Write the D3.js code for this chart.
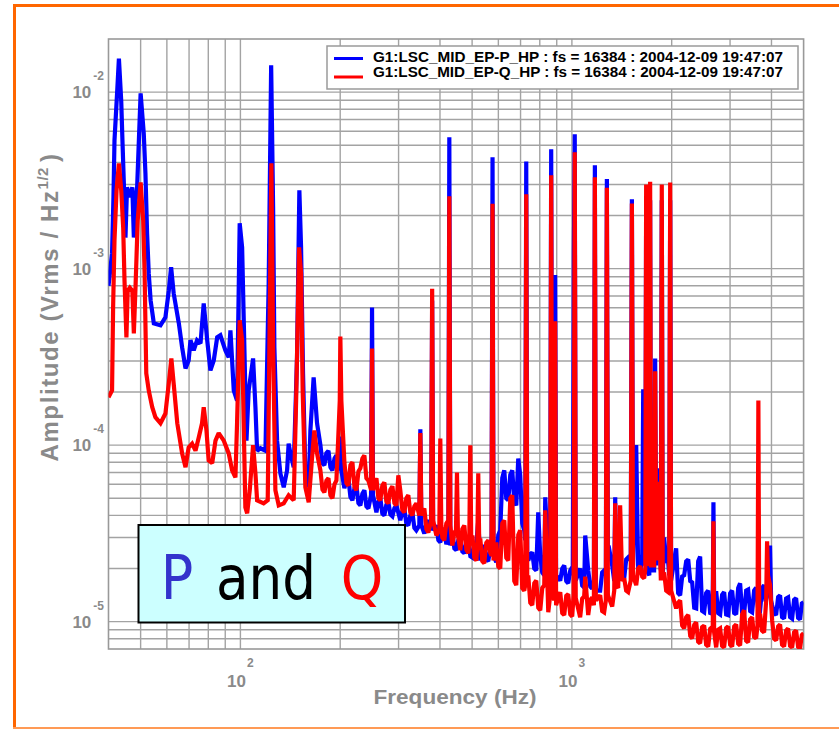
<!DOCTYPE html>
<html><head><meta charset="utf-8">
<script src="https://cdn.jsdelivr.net/npm/d3@7"></script>
<style>body{margin:0;background:#fff;} svg{display:block;}</style>
</head><body>
<svg id="c" width="839" height="729"></svg>
<script>
// ---- data: [frequency Hz, amplitude Vrms/sqrt(Hz)] ----
const seriesP = [
[40,8.0e-4],[41.0,1.22e-3],[41.4,2.54e-3],[41.7,5.33e-3],[42.5,1.02e-2],[43.0,1.55e-2],[43.7,8.9e-3],[44.0,5.84e-3],[44.5,3.04e-3],[45.0,1.50e-3],
[45.5,2.89e-3],[46.4,2.54e-3],[47.2,2.89e-3],[47.7,1.50e-3],[48.3,2.44e-3],[48.8,2.89e-3],[50.0,9.84e-3],[51.1,5.84e-3],[51.7,3.47e-3],[52.3,1.58e-3],
[52.9,9.4e-4],[53.6,6.6e-4],[54.8,4.9e-4],[57.4,4.77e-4],[59.4,5.3e-4],[60.8,7.5e-4],[61.8,1.02e-3],[62.9,7.25e-4],[65.2,4.9e-4],[66.7,3.58e-4],
[68.3,2.72e-4],[69.8,3.02e-4],[70.7,3.93e-4],[72.3,3.44e-4],[74.0,3.93e-4],[75.8,3.77e-4],[77.5,6.36e-4],[79.4,3.93e-4],[81.2,2.65e-4],[83.1,3.02e-4],
[85.1,4.08e-4],[87.0,4.19e-4],[90.1,3.44e-4],[92.2,3.14e-4],[93.3,4.47e-4],[95.5,2.04e-4],[97.7,1.79e-4],[99.5,1.81e-3],[101.2,1.32e-3],[102.3,5.3e-4],
[104.3,1.06e-4],[105.9,2.04e-4],[109.2,3.1e-4],[111.0,1.64e-4],[112.3,9.3e-5],[114.9,9.6e-5],[119.0,9.3e-5],[121.7,8.25e-4],[123.8,1.42e-2],[125.5,2.23e-3],
[126.6,3.58e-4],[129.0,1.06e-4],[132.0,6.92e-5],[135.1,5.77e-5],[138.3,7.2e-5],[139.8,1.02e-4],[141.5,8.98e-5],[144.8,7.5e-5],[148.2,3.14e-4],[150.6,2.78e-3],
[152.4,1.32e-3],[154.5,2.55e-4],[157.0,6.92e-5],[160.7,5.77e-5],[162.6,1.21e-4],[166.3,2.42e-4],[170.3,1.33e-4],
[174.3,1.0e-4],[176.8,7.9e-5],[179.2,7.7e-5],[181.7,9.0e-5],[184.3,9.3e-5],[186.9,7.5e-5],[189.5,7.2e-5],[192.2,8.4e-5],[194.8,8.75e-5],[198.5,7.2e-5],
[200.2,1.12e-4],[201.6,7.2e-5],[205.9,5.7e-5],[208.8,6.3e-5],[211.7,6.5e-5],[214.7,5.1e-5],[217.7,4.87e-5],[220.8,5.7e-5],[223.8,5.9e-5],[227.0,4.7e-5],
[230.1,4.56e-5],[233.3,5.3e-5],[236.6,5.55e-5],[239.9,4.5e-5],[243.3,4.38e-5],[247.8,5.2e-5],[249.5,6.03e-4],[251.2,5.2e-5],[257.2,4.16e-5],[260.8,4.8e-5],
[264.3,5.0e-5],[268.0,4.1e-5],[271.8,4.0e-5],[275.6,4.6e-5],[279.5,4.74e-5],[283.4,4.05e-5],[287.4,3.95e-5],[291.5,4.4e-5],[295.5,4.56e-5],[303.6,3.75e-5],
[307.9,4.2e-5],[312.2,4.38e-5],[316.6,3.6e-5],[321.0,3.51e-5],[325.5,4.0e-5],[330.1,4.16e-5],[334.8,3.4e-5],[339.4,3.29e-5],[346.5,3.51e-5],[349.0,1.23e-4],
[351.5,3.51e-5],[358.8,3.16e-5],[363.9,3.6e-5],[368.9,3.75e-5],[376.2,3.29e-5],[378.8,6.6e-4],[381.4,3.29e-5],[390.0,3.51e-5],[395.5,2.9e-5],[400.9,2.81e-5],
[406.6,3.25e-5],[412.2,3.38e-5],[418.0,2.75e-5],[424.0,2.89e-5],[426.8,5.55e-3],[429.8,2.7e-5],[435.8,3.2e-5],[442.0,2.6e-5],[448.1,2.54e-5],[454.4,2.9e-5],
[460.7,3.0e-5],[467.2,2.5e-5],[473.7,2.44e-5],[480.4,2.8e-5],[487.1,2.89e-5],[494.0,2.35e-5],[500.8,2.31e-5],[507.9,2.7e-5],[515.0,2.78e-5],[521.8,3.75e-5],
[529.1,2.22e-5],[536.6,2.6e-5],[544.0,2.7e-5],[551.7,2.25e-5],[559.4,2.2e-5],[567.3,2.6e-5],[572.2,2.54e-5],[576.2,4.27e-3],[580.2,2.37e-5],[591.4,2.17e-5],
[599.7,3.1e-5],[607.9,3.29e-5],[616.5,6.5e-5],[625.1,7.2e-5],[633.9,5.0e-5],[642.7,4.87e-5],[651.8,6.8e-5],[660.8,7.2e-5],[670.1,4.8e-5],[679.5,4.56e-5],
[688.9,8.4e-5],[698.5,6.74e-5],[708.3,3.6e-5],[718.2,3.29e-5],[723.2,2.89e-5],[728.2,4.05e-3],[733.2,2.37e-5],[738.5,2.22e-5],[748.9,2.4e-5],[759.3,2.47e-5],
[770.0,2.0e-5],[780.7,1.95e-5],[791.5,4.16e-5],[802.6,2.37e-5],[813.9,1.9e-5],[825.3,1.83e-5],[831,5.06e-5],[848.6,2.28e-5],[860,2.22e-5],[866,4.74e-3],
[872,1.83e-5],[884,1.95e-5],[890,9.2e-4],[896,1.83e-5],[922.1,1.71e-5],[935.1,2.0e-5],[948.2,2.08e-5],[961.6,1.7e-5],[974.9,1.65e-5],[988.6,1.95e-5],
[1002,2.03e-5],[1006,1.83e-5],[1014,1.27e-3],[1020,5.77e-3],[1027,1.71e-5],[1059,2.0e-5],[1074,1.6e-5],[1089,1.56e-5],[1097,3.08e-5],[1120,1.95e-5],
[1136,1.58e-5],[1151,1.54e-5],[1165,1.71e-5],[1173,3.85e-3],[1181,1.5e-5],[1217,1.5e-5],[1234,1.9e-5],[1251,1.95e-5],[1266,1.83e-5],[1275,3.22e-3],
[1284,2.22e-5],[1290,2.7e-5],[1323,2.08e-5],[1342,1.7e-5],[1351,5.06e-5],[1360,1.67e-5],[1379,2.15e-5],[1398,2.22e-5],[1418,1.8e-5],[1438,1.76e-5],
[1458,2.25e-5],[1478,2.31e-5],[1505,2.22e-5],[1517,2.47e-3],[1529,2.08e-5],[1563,1.0e-4],[1585,1.95e-5],[1607,1.9e-5],[1630,2.4e-5],[1641,2.07e-4],
[1652,2.44e-5],[1665,2.08e-5],[1675,2.44e-3],[1686,1.95e-5],[1712,1.83e-5],[1722,2.44e-3],[1732,1.95e-5],[1770,1.95e-5],[1783,3.1e-4],[1796,2.08e-5],
[1820,7.4e-5],[1855,1.95e-5],[1867,2.44e-3],[1879,1.83e-5],[1898,3.0e-5],[1925,2.2e-5],[1952,2.17e-5],[1966,1.83e-5],[1979,2.44e-3],[1992,1.71e-5],
[2063,2.6e-5],[2092,1.45e-5],[2121,1.41e-5],[2151,1.8e-5],[2181,1.83e-5],[2212,2.2e-5],[2243,2.25e-5],[2275,1.7e-5],[2306,1.67e-5],[2339,1.2e-5],
[2371,1.19e-5],[2404,2.2e-5],[2437,2.34e-5],[2471,1.15e-5],[2506,1.13e-5],[2541,1.45e-5],[2577,1.5e-5],[2613,1.12e-5],[2649,1.11e-5],[2660,1.32e-5],
[2673,4.74e-5],[2686,1.32e-5],[2724,1.49e-5],[2762,1.12e-5],[2800,1.1e-5],[2839,1.42e-5],[2879,1.47e-5],[2920,1.1e-5],[2960,1.09e-5],[3002,1.45e-5],
[3044,1.5e-5],[3087,1.12e-5],[3130,1.1e-5],[3174,1.55e-5],[3217,1.65e-5],[3262,1.13e-5],[3308,1.11e-5],[3355,1.5e-5],[3401,1.52e-5],[3449,1.15e-5],
[3497,1.13e-5],[3546,1.5e-5],[3596,1.56e-5],[3646,1.18e-5],[3696,1.16e-5],[3748,1.55e-5],[3800,1.61e-5],[3840,1.3e-5],[3880,1.4e-5],[3935,1.5e-5],
[3961,2.7e-5],[3990,1.32e-5],[4018,1.24e-5],[4075,1.12e-5],[4131,1.09e-5],[4189,1.38e-5],[4246,1.41e-5],[4306,1.06e-5],[4366,1.04e-5],[4428,1.35e-5],
[4489,1.37e-5],[4552,1.06e-5],[4616,1.04e-5],[4681,1.33e-5],[4746,1.36e-5],[4813,1.05e-5],[4878,1.03e-5],[4940,1.27e-5],[5000,1.29e-5]
];
const seriesQ = [
[40,1.87e-4],[41.0,2.04e-4],[41.3,6.03e-4],[41.7,1.45e-3],[42.3,2.78e-3],[43.0,3.95e-3],[43.7,2.78e-3],[44.3,1.71e-3],[44.7,8.6e-4],[45.3,4.08e-4],
[45.7,7.5e-4],[46.4,7.8e-4],[47.2,7.5e-4],[47.7,4.3e-4],[48.3,8.25e-4],[49.0,1.88e-3],[50.0,3.08e-3],[50.9,1.88e-3],[51.4,9.4e-4],[52.0,2.55e-4],
[52.9,2.04e-4],[54.2,1.64e-4],[55.4,1.44e-4],[57.4,1.33e-4],[59.4,1.51e-4],[60.8,2.24e-4],[61.9,3.1e-4],[62.9,2.24e-4],[64.5,1.33e-4],[66.7,8.98e-5],
[68.3,7.5e-5],[69.8,9.7e-5],[71.5,1.02e-4],[73.2,9.3e-5],[74.9,1.11e-4],[76.6,1.33e-4],[77.5,1.64e-4],[79.0,1.21e-4],[80.2,8.2e-5],[82.2,7.9e-5],
[84.1,1.06e-4],[86.0,1.17e-4],[89.1,1.06e-4],[92.2,8.98e-5],[94.4,7.2e-5],[96.6,6.57e-5],[97.7,1.33e-4],[99.5,5.1e-4],[101.2,3.93e-4],[102.3,1.33e-4],
[103.5,4.44e-5],[104.8,4.11e-5],[106.7,5.55e-5],[109.2,1.0e-4],[111.0,6.92e-5],[112.3,4.87e-5],[117.5,4.68e-5],[120.9,4.87e-5],[122.3,3.58e-4],[124.0,3.95e-3],
[125.5,3.58e-4],[127.5,5.55e-5],[130.5,4.56e-5],[135.1,4.68e-5],[139.8,5.2e-5],[144.8,4.87e-5],[147.5,2.04e-4],[150.3,1.32e-3],[152.4,9.4e-4],[154.1,2.04e-4],
[157.0,5.77e-5],[160.7,4.74e-5],[164.5,8.53e-5],[167.1,1.21e-4],[170.3,8.98e-5],
[174.3,7.2e-5],[176.8,5.6e-5],[179.2,5.4e-5],[181.7,6.3e-5],[184.3,6.5e-5],[186.9,5.2e-5],[189.5,5.0e-5],[192.2,6.0e-5],[194.8,6.3e-5],[197.2,1.07e-4],
[199.4,1.79e-4],[200.2,4.13e-4],[201.6,1.79e-4],[203.7,1.21e-4],[205.9,8.0e-5],[208.8,6.1e-5],[211.7,5.9e-5],[214.7,7.7e-5],[217.7,8.0e-5],[220.8,5.8e-5],
[223.8,5.55e-5],[227.0,7.1e-5],[230.1,7.4e-5],[233.3,8.4e-5],[236.6,8.75e-5],[239.9,6.5e-5],[243.3,6.3e-5],[248.0,5.55e-5],[249.5,3.53e-4],[251.0,5.55e-5],
[257.2,6.5e-5],[260.8,5.0e-5],[264.3,4.87e-5],[268.0,5.9e-5],[271.8,6.15e-5],[275.6,4.8e-5],[279.5,4.68e-5],[283.4,5.6e-5],[287.4,5.85e-5],[291.5,4.7e-5],
[295.5,4.56e-5],[299.5,6.74e-5],[303.6,5.55e-5],[307.9,4.3e-5],[312.2,4.16e-5],[316.6,5.0e-5],[321.0,5.2e-5],[325.5,4.15e-5],[330.1,4.0e-5],[334.8,4.5e-5],
[339.4,4.68e-5],[346.5,4.0e-5],[349.0,1.17e-4],[351.5,4.0e-5],[358.8,4.38e-5],[363.9,3.35e-5],[368.9,3.2e-5],[376.2,3.75e-5],[378.8,7.7e-4],[381.4,3.75e-5],
[390.0,3.08e-5],[398.1,3.29e-5],[400.9,1.09e-4],[403.7,3.51e-5],[406.6,3.0e-5],[412.2,2.89e-5],[418.0,3.6e-5],[424.0,3.75e-5],[426.8,2.57e-3],[429.8,3.51e-5],
[435.8,2.7e-5],[442.0,3.2e-5],[447.0,3.29e-5],[450.1,7.0e-5],[453.2,3.08e-5],[460.7,2.54e-5],[467.2,3.35e-5],[473.7,3.51e-5],[480.4,2.55e-5],[487.1,2.44e-5],
[490.3,2.89e-5],[493.7,1.0e-4],[497.1,2.7e-5],[500.8,3.08e-5],[507.9,2.3e-5],[515.0,2.22e-5],[518.2,2.7e-5],[521.8,6.92e-5],[525.4,2.7e-5],[529.1,2.96e-5],
[536.6,2.2e-5],[544.0,2.14e-5],[551.7,2.8e-5],[559.4,2.89e-5],[567.3,2.45e-5],[572.2,2.37e-5],[576.2,2.33e-3],[580.2,2.22e-5],[591.4,2.81e-5],[599.7,2.05e-5],
[607.9,2.0e-5],[616.5,3.6e-5],[625.1,3.75e-5],[633.9,2.3e-5],[642.7,2.22e-5],[651.8,5.0e-5],[660.8,5.2e-5],[670.1,1.7e-5],[679.5,1.61e-5],[689.1,3.1e-5],
[698.5,3.29e-5],[708.3,1.55e-5],[718.2,1.5e-5],[723.2,1.61e-5],[728.2,2.64e-3],[733.2,1.71e-5],[738.5,1.83e-5],[748.9,1.28e-5],[759.3,1.24e-5],[770.0,1.65e-5],
[780.7,1.71e-5],[791.7,1.2e-5],[802.6,1.16e-5],[813.9,1.55e-5],[825.3,1.61e-5],[831,4.27e-5],[848.6,1.13e-5],[860,1.41e-5],[866,3.38e-3],[872,1.5e-5],
[884,1.32e-5],[890,5.03e-4],[896,1.24e-5],[922.1,1.47e-5],[935.1,1.12e-5],[948.2,1.09e-5],[961.6,1.4e-5],[974.9,1.43e-5],[988.6,1.1e-5],[1002,1.07e-5],
[1012,1.41e-5],[1020,4.56e-3],[1027,1.36e-5],[1059,1.06e-5],[1074,1.35e-5],[1089,1.39e-5],[1097,1.8e-5],[1120,1.09e-5],[1136,1.33e-5],[1151,1.37e-5],
[1165,1.24e-5],[1173,3.29e-3],[1181,1.32e-5],[1217,1.41e-5],[1234,1.15e-5],[1251,1.13e-5],[1266,1.32e-5],[1275,2.87e-3],[1284,1.41e-5],[1323,1.22e-5],
[1342,1.5e-5],[1351,4.68e-5],[1360,1.61e-5],[1379,1.55e-5],[1398,4.56e-5],[1418,1.7e-5],[1438,1.76e-5],[1458,1.5e-5],[1478,1.47e-5],[1505,1.71e-5],
[1517,2.34e-3],[1529,1.83e-5],[1563,1.61e-5],[1585,2.0e-5],[1607,2.06e-5],[1630,1.8e-5],[1652,1.76e-5],[1665,2.0e-5],[1675,3.0e-3],[1686,2.08e-5],
[1699,2.17e-5],[1712,2.22e-5],[1722,3.11e-3],[1732,2.08e-5],[1770,2.08e-5],[1783,2.62e-4],[1796,2.22e-5],[1820,6.2e-5],[1855,1.71e-5],[1867,3.0e-3],
[1879,1.83e-5],[1898,1.9e-5],[1925,1.5e-5],[1952,1.47e-5],[1966,1.61e-5],[1979,3.08e-3],[1992,1.5e-5],[2063,1.19e-5],[2092,1.28e-5],[2121,1.32e-5],
[2151,9.5e-6],[2181,9.16e-6],[2212,1.06e-5],[2243,1.09e-5],[2275,8.3e-6],[2306,8.04e-6],[2339,9.6e-6],[2371,9.9e-6],[2404,7.7e-6],[2437,7.54e-6],
[2471,9.3e-6],[2506,9.5e-6],[2541,7.4e-6],[2577,7.24e-6],[2613,9.1e-6],[2649,9.3e-6],[2660,8.9e-6],[2673,3.7e-5],[2686,8.7e-6],[2724,7.15e-6],
[2762,9.0e-6],[2800,9.16e-6],[2839,7.3e-6],[2879,7.15e-6],[2920,9.2e-6],[2960,9.4e-6],[3002,7.4e-6],[3044,7.24e-6],[3087,9.4e-6],[3130,9.65e-6],
[3174,7.5e-6],[3217,7.34e-6],[3262,1.1e-5],[3308,1.16e-5],[3355,7.8e-6],[3401,7.63e-6],[3449,1.03e-5],[3497,1.06e-5],[3546,8.2e-6],[3596,8.04e-6],
[3630,9.5e-6],[3652,1.79e-4],[3674,1.02e-5],[3696,1.11e-5],[3748,8.9e-6],[3800,8.7e-6],[3855,1.32e-5],[3880,2.85e-5],[3905,1.83e-5],[3961,1.61e-5],
[4018,1.02e-5],[4075,8.0e-6],[4131,7.83e-6],[4189,9.4e-6],[4246,9.65e-6],[4306,7.4e-6],[4366,7.24e-6],[4428,8.9e-6],[4489,9.16e-6],[4552,7.3e-6],
[4616,7.15e-6],[4681,8.7e-6],[4746,8.9e-6],[4813,7.2e-6],[4878,7.06e-6],[4940,8.4e-6],[5000,8.6e-6]
];
const seriesNames = ["G1:LSC_MID_EP-P_HP : fs = 16384 : 2004-12-09 19:47:07",
                     "G1:LSC_MID_EP-Q_HP : fs = 16384 : 2004-12-09 19:47:07"];
const seriesColors = ["#0000ff", "#ff0000"];
const xDomain = [40, 5000];
const yDomain = [7e-6, 2e-2];
const xTickExps = [2, 3];
const yTickExps = [-2, -3, -4, -5];
const xTitle = "Frequency (Hz)";
const yTitle = "Amplitude (Vrms / Hz";
const yTitleSup = "1/2";
const noteWords = [["P", "#3333cc"], ["and", "#000000"], ["Q", "#ff0000"]];

// ---- layout ----
const svg = d3.select("#c");
const L = 108.5, R = 803.6, T = 39, B = 649;
const x = d3.scaleLog().domain(xDomain).range([L, R]);
const y = d3.scaleLog().domain(yDomain).range([B, T]);
const gray = "#8a8a8a";
const gridCol = "#a3a3a3";

// orange frame
svg.append("line").attr("x1", 14.5).attr("y1", 5.5).attr("x2", 839).attr("y2", 5.5)
  .attr("stroke", "#ff6600").attr("stroke-width", 3);
svg.append("line").attr("x1", 14.5).attr("y1", 4).attr("x2", 14.5).attr("y2", 729)
  .attr("stroke", "#ff6600").attr("stroke-width", 3);
svg.append("line").attr("x1", 13).attr("y1", 728).attr("x2", 839).attr("y2", 728)
  .attr("stroke", "#ff9a55").attr("stroke-width", 2);

// grid
const xGrid = [], yGrid = [];
for (let d = 1; d <= 3; d++) for (let m = 1; m <= 9; m++) {
  const v = m * Math.pow(10, d);
  if (v > xDomain[0] && v < xDomain[1]) xGrid.push(v);
}
for (let d = -6; d <= -2; d++) for (let m = 1; m <= 9; m++) {
  const v = m * Math.pow(10, d);
  if (v > yDomain[0] * 1.001 && v < yDomain[1] * 0.999) yGrid.push(v);
}
const g = svg.append("g");
g.selectAll(".gx").data(xGrid).join("line")
  .attr("x1", d => x(d)).attr("x2", d => x(d)).attr("y1", T).attr("y2", B)
  .attr("stroke", gridCol).attr("stroke-width", 1.4);
g.selectAll(".gy").data(yGrid).join("line")
  .attr("y1", d => y(d)).attr("y2", d => y(d)).attr("x1", L).attr("x2", R)
  .attr("stroke", gridCol).attr("stroke-width", 1.4);
g.append("rect").attr("x", L).attr("y", T).attr("width", R - L).attr("height", B - T)
  .attr("fill", "none").attr("stroke", "#999").attr("stroke-width", 1.6);

// traces
svg.append("clipPath").attr("id", "pc").append("rect")
  .attr("x", L).attr("y", T).attr("width", R - L).attr("height", B - T);
const line = d3.line().x(d => x(d[0])).y(d => y(d[1]));
const pg = svg.append("g").attr("clip-path", "url(#pc)");
[seriesP, seriesQ].forEach((s, i) => {
  pg.append("path").datum(s).attr("d", line).attr("fill", "none")
    .attr("stroke", seriesColors[i]).attr("stroke-width", 4.2)
    .attr("stroke-linejoin", "miter").attr("stroke-miterlimit", 2);
});

// tick labels
const tickFont = "'Liberation Sans', Arial, sans-serif";
xTickExps.forEach(e => {
  const t = svg.append("text").attr("x", x(Math.pow(10, e))).attr("y", 687)
    .attr("text-anchor", "middle").attr("fill", gray)
    .style("font-family", tickFont).style("font-weight", "bold");
  t.append("tspan").style("font-size", "17px").text("10");
  t.append("tspan").attr("dy", -20).attr("dx", 1).style("font-size", "12px").text(String(e));
});
yTickExps.forEach(e => {
  const t = svg.append("text").attr("x", 104).attr("y", y(Math.pow(10, e)) + 6)
    .attr("text-anchor", "end").attr("fill", gray)
    .style("font-family", tickFont).style("font-weight", "bold");
  t.append("tspan").style("font-size", "17px").text("10");
  t.append("tspan").attr("dy", -18).attr("dx", 2).style("font-size", "12px").text(String(e));
});

// axis titles
svg.append("text").attr("x", 455).attr("y", 704).attr("text-anchor", "middle")
  .attr("fill", gray).style("font-family", tickFont).style("font-weight", "bold")
  .style("font-size", "20px").attr("textLength", 163).attr("lengthAdjust", "spacingAndGlyphs")
  .text(xTitle);
const yt = svg.append("text").attr("transform", "translate(58,307) rotate(-90)")
  .attr("text-anchor", "middle").attr("fill", gray)
  .style("font-family", tickFont).style("font-weight", "bold").style("font-size", "24px")
  .style("letter-spacing", "1.6px");
yt.append("tspan").text(yTitle);
yt.append("tspan").attr("dy", -10).style("font-size", "15px").style("letter-spacing", "0.5px").text(yTitleSup);
yt.append("tspan").attr("dy", 10).attr("dx", 5).text(")");

// legend
const lg = svg.append("g");
lg.append("rect").attr("x", 327).attr("y", 46).attr("width", 471).attr("height", 43)
  .attr("fill", "#fff").attr("stroke", "#9a9a9a").attr("stroke-width", 1.5);
seriesNames.forEach((n, i) => {
  const ly = [58.5, 77][i];
  lg.append("line").attr("x1", 334).attr("x2", 363).attr("y1", ly).attr("y2", ly)
    .attr("stroke", seriesColors[i]).attr("stroke-width", 3);
  lg.append("text").attr("x", 373).attr("y", [61.5, 76.5][i]).attr("fill", "#000")
    .style("font-family", tickFont).style("font-weight", "bold").style("font-size", "14.5px")
    .attr("textLength", 410).attr("lengthAdjust", "spacingAndGlyphs").text(n);
});

// "P and Q" note box
const nb = svg.append("g");
nb.append("rect").attr("x", 138.5).attr("y", 525).attr("width", 266.5).attr("height", 97.5)
  .attr("fill", "#ccffff").attr("stroke", "#000").attr("stroke-width", 2);
const noteX = [177, 266, 362];
const noteLen = [null, 100, null];
noteWords.forEach((w, i) => {
  const t = nb.append("text").attr("x", noteX[i]).attr("y", 599).attr("text-anchor", "middle")
    .attr("fill", w[1]).style("font-family", "'DejaVu Sans Condensed', 'DejaVu Sans', sans-serif")
    .style("font-size", "60px").text(w[0]);
  if (noteLen[i]) t.attr("textLength", noteLen[i]).attr("lengthAdjust", "spacingAndGlyphs");
});
</script>
</body></html>
